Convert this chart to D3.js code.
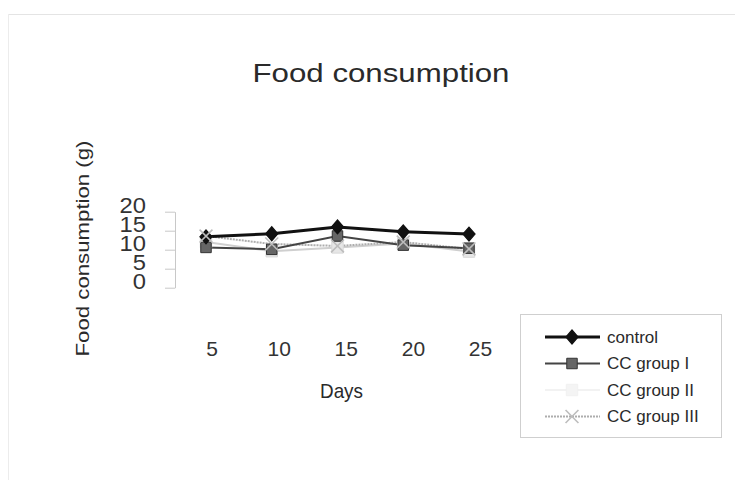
<!DOCTYPE html>
<html>
<head>
<meta charset="utf-8">
<script src="https://cdn.jsdelivr.net/npm/d3@7"></script>
<style>
html,body{margin:0;padding:0;background:#fff;}
svg{display:block;font-family:"Liberation Sans",Arial,sans-serif;}
</style>
</head>
<body>
<svg id="chart" width="739" height="487"></svg>
<script>
const days = [5, 10, 15, 20, 25];
const yTicks = [0, 5, 10, 15, 20];
const control = [13.4, 14.2, 16.0, 14.7, 14.1];
const groupI = [10.6, 10.1, 13.6, 11.2, 10.4];
const groupII = [12.0, 9.6, 10.6, 11.6, 9.5];
const groupIII = [13.6, 11.5, 11.0, 12.0, 10.2];
const seriesNames = ["control", "CC group I", "CC group II", "CC group III"];

const series = [
  {name: seriesNames[0], values: control, stroke: "#111", width: 3, dash: null, marker: "diamond", fill: "#111", mstroke: "#111", size: 55},
  {name: seriesNames[1], values: groupI, stroke: "#444", width: 2, dash: null, marker: "square", fill: "#666", mstroke: "#333", size: 110},
  {name: seriesNames[2], values: groupII, stroke: "#cfcfcf", width: 2, dash: null, marker: "square", fill: "#e6e6e6", mstroke: "#d8d8d8", size: 130},
  {name: seriesNames[3], values: groupIII, stroke: "#adadad", width: 2, dash: "2,1", marker: "cross", fill: "none", mstroke: "#bdbdbd", size: 110}
];

const svg = d3.select("#chart");

// outer frame (faint)
svg.append("line").attr("x1", 8).attr("x2", 735).attr("y1", 14.5).attr("y2", 14.5).attr("stroke", "#e4e4e4");
svg.append("line").attr("x1", 8.5).attr("x2", 8.5).attr("y1", 14).attr("y2", 480).attr("stroke", "#ececec");

const x = d3.scalePoint().domain(days).range([206, 469]);
const xLab = d3.scalePoint().domain(days).range([211.5, 480]);
const y = d3.scaleLinear().domain([0, 20]).range([287.7, 211.7]);

// title
svg.append("text").attr("x", 381).attr("y", 82).attr("text-anchor", "middle")
  .attr("font-size", 26).attr("fill", "#2a2a2a")
  .attr("textLength", 257).attr("lengthAdjust", "spacingAndGlyphs")
  .text("Food consumption");

// y axis
const yAxis = d3.axisLeft(y).tickValues(yTicks).tickSizeInner(10).tickSizeOuter(0).tickPadding(17);
const gy = svg.append("g").attr("transform", "translate(175,0)").call(yAxis);
gy.select(".domain").attr("stroke", "#c8c8c8");
gy.selectAll(".tick line").attr("stroke", "#c8c8c8");
gy.selectAll(".tick text").attr("font-size", 22).attr("fill", "#333")
  .attr("font-family", "Liberation Sans, Arial, sans-serif")
  .attr("transform", "translate(0,-6) scale(1.08,1)");

// y axis title
svg.append("text").attr("transform", "translate(89,248.5) rotate(-90)")
  .attr("text-anchor", "middle").attr("font-size", 18).attr("fill", "#2a2a2a")
  .attr("textLength", 216).attr("lengthAdjust", "spacingAndGlyphs")
  .text("Food consumption (g)");

// x tick labels (no axis line in reference)
const xAxis = d3.axisBottom(xLab).tickSize(0).tickPadding(0);
const gx = svg.append("g").attr("transform", "translate(0,340)").call(xAxis);
gx.select(".domain").remove();
gx.selectAll(".tick text").attr("font-size", 21).attr("fill", "#333")
  .attr("font-family", "Liberation Sans, Arial, sans-serif")
  .attr("dy", "0.76em");

// x axis title
svg.append("text").attr("x", 341.5).attr("y", 398).attr("text-anchor", "middle")
  .attr("font-size", 21).attr("fill", "#2a2a2a")
  .attr("textLength", 43).attr("lengthAdjust", "spacingAndGlyphs")
  .text("Days");

const line = d3.line().x((d, i) => x(days[i])).y(d => y(d));

function drawMarker(g, s, cx, cy) {
  if (s.marker === "diamond") {
    g.append("path").attr("d", d3.symbol(d3.symbolDiamond, s.size)())
      .attr("transform", `translate(${cx},${cy}) scale(1.5,1)`)
      .attr("fill", s.fill).attr("stroke", s.mstroke);
  } else if (s.marker === "square") {
    g.append("path").attr("d", d3.symbol(d3.symbolSquare, s.size)())
      .attr("transform", `translate(${cx},${cy})`)
      .attr("fill", s.fill).attr("stroke", s.mstroke);
  } else {
    g.append("path").attr("d", d3.symbol(d3.symbolX, s.size)())
      .attr("transform", `translate(${cx},${cy})`)
      .attr("fill", "none").attr("stroke", s.mstroke).attr("stroke-width", 1.6);
  }
}

// lines (lighter series first, dark on top)
const order = [2, 3, 1, 0];
order.forEach(k => {
  const s = series[k];
  svg.append("path").datum(s.values).attr("d", line)
    .attr("fill", "none").attr("stroke", s.stroke).attr("stroke-width", s.width)
    .attr("stroke-dasharray", s.dash);
});
[2, 1, 0, 3].forEach(k => {
  const s = series[k];
  const g = svg.append("g");
  s.values.forEach((v, i) => drawMarker(g, s, x(days[i]), y(v)));
});

// legend
const lg = svg.append("g");
lg.append("rect").attr("x", 520.5).attr("y", 314.5).attr("width", 201).attr("height", 123)
  .attr("fill", "#fff").attr("stroke", "#cfcfcf");
series.forEach((s, i) => {
  const ly = 337 + i * 26.5;
  lg.append("line").attr("x1", 545).attr("x2", 600).attr("y1", ly).attr("y2", ly)
    .attr("stroke", i === 2 ? "#f2f2f2" : s.stroke).attr("stroke-width", s.width)
    .attr("stroke-dasharray", s.dash);
  drawMarker(lg, i === 2 ? Object.assign({}, s, {fill: "#f4f4f4", mstroke: "#f0f0f0"}) : s, 572, ly);
  lg.append("text").attr("x", 607).attr("y", ly).attr("dy", "0.35em")
    .attr("font-size", 17).attr("fill", "#2a2a2a").text(s.name);
});
</script>
</body>
</html>
